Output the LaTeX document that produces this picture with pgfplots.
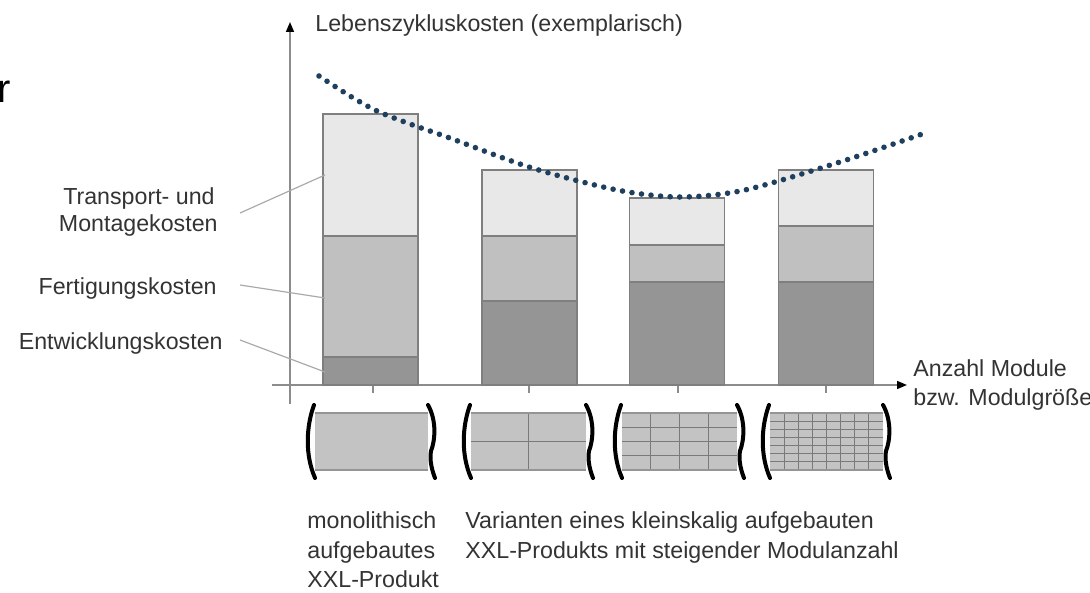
\documentclass[border=0pt]{standalone}
\usepackage{fontspec}
\setmainfont{Liberation Sans}
\usepackage{pgfplots}
\pgfplotsset{compat=1.18}
\usetikzlibrary{arrows.meta}
\definecolor{cDev}{HTML}{959595}
\definecolor{cFert}{HTML}{C0C0C0}
\definecolor{cTrans}{HTML}{E8E8E8}
\definecolor{cEdge}{HTML}{7F7F7F}
\definecolor{cCurve}{HTML}{1E3F5E}
\definecolor{cText}{HTML}{333333}
\definecolor{cAxis}{HTML}{8C8C8C}
\definecolor{cLead}{HTML}{AAAAAA}
\definecolor{cMod}{HTML}{C3C3C3}
\definecolor{cGrid}{HTML}{7A7A7A}
\begin{document}
\begin{tikzpicture}
\pgfplotsset{base/.style={x=0.5pt,y=0.5pt,xmin=0,xmax=1090,ymin=-208,ymax=385,hide axis,clip=false,anchor=origin,at={(0,0)}}}
\begin{scope}[x=0.5pt,y=0.5pt]
  \draw[cAxis, line width=0.8pt, -{Triangle[length=5pt,width=4pt,color=black]}] (290,-19) -- (290,363);
  \draw[cAxis, line width=0.8pt, -{Triangle[length=5pt,width=4pt,color=black]}] (272,0) -- (907,0);
  \foreach \t in {373,529,678,826} {\draw[cAxis, line width=0.8pt] (\t,0) -- (\t,-8);}
\end{scope}
\begin{axis}[base, ybar stacked, bar width=95]
\addplot[fill=cDev, draw=cEdge, line width=0.75pt] coordinates {(370.5,28) (529.5,84) (677,103) (826,103)};
\addplot[fill=cFert, draw=cEdge, line width=0.75pt] coordinates {(370.5,121) (529.5,65) (677,37) (826,56)};
\addplot[fill=cTrans, draw=cEdge, line width=0.75pt] coordinates {(370.5,122) (529.5,66) (677,47) (826,56)};
\end{axis}
\begin{axis}[base]
\addplot[cCurve, smooth, line width=2.8pt, line cap=round, dash pattern=on 0pt off 4.8pt] coordinates {(319,309) (350,289) (377,274) (410,261) (447,248) (532,217) (617,195) (680,188) (745,195) (840,223) (928,253)};
\end{axis}
\begin{scope}[x=0.5pt,y=0.5pt]
  % leader lines
  \draw[cLead, line width=0.6pt] (240,172) -- (325,210);
  \draw[cLead, line width=0.6pt] (240,100) -- (325,87);
  \draw[cLead, line width=0.6pt] (240,45) -- (325,13);
  % modules
  \foreach \L/\R/\nc/\nr in {315/428/1/1, 471/586/2/2, 622/737/4/4, 770/883/8/7} {
    \fill[cMod] (\L,-85) rectangle (\R,-28);
    \pgfmathsetmacro\dx{(\R-\L)/\nc}
    \pgfmathsetmacro\dy{57/\nr}
    \foreach \i in {1,...,\nc} {\ifnum\i<\nc \draw[cGrid, line width=0.5pt] ({\L+\i*\dx},-85) -- ({\L+\i*\dx},-28);\fi}
    \foreach \j in {1,...,\nr} {\ifnum\j<\nr \draw[cGrid, line width=0.5pt] (\L,{-85+\j*\dy}) -- (\R,{-85+\j*\dy});\fi}
    \draw[cGrid!80, line width=0.6pt] (\L,-28) -- (\R,-28) (\L,-85) -- (\R,-85);
    \draw[black, line width=2pt, line cap=round] ({\L-1},-20) .. controls ({\L-9},-42) and ({\L-10},-70) .. (\L,-93);
    \draw[black, line width=2pt, line cap=round] (\R,-20) .. controls ({\R+9},-36) and ({\R+7},-56) .. ({\R+3},-66) .. controls ({\R+1},-76) and ({\R+5},-88) .. ({\R+7},-93);
  }
  % texts
  \tikzset{lab/.style={font=\fontsize{11.6}{14}\selectfont, text=cText, inner sep=0pt}}
  \node[lab, anchor=base west] at (315,353) {Lebenszykluskosten (exemplarisch)};
  \node[lab, anchor=base east] at (215,180) {Transport- und};
  \node[lab, anchor=base east] at (218,153) {Montagekosten};
  \node[lab, anchor=base east] at (217,90) {Fertigungskosten};
  \node[lab, anchor=base east] at (223,35) {Entwicklungskosten};
  \node[lab, anchor=base west] at (913,8) {Anzahl Module};
  \node[lab, anchor=base west] at (913,-21) {bzw. Modulgröße};
  \node[lab, anchor=base west] at (307,-143) {monolithisch};
  \node[lab, anchor=base west] at (307,-173) {aufgebautes};
  \node[lab, anchor=base west] at (307,-202) {XXL-Produkt};
  \node[lab, anchor=base west] at (465,-143) {Varianten eines kleinskalig aufgebauten};
  \node[lab, anchor=base west] at (465,-173) {XXL-Produkts mit steigender Modulanzahl};
  \node[font=\fontsize{20}{24}\selectfont, inner sep=0pt, anchor=base west] at (-3,282) {r};
  \pgfresetboundingbox
  \path[use as bounding box] (0,-208) rectangle (1090,385);
\end{scope}
\end{tikzpicture}
\end{document}
